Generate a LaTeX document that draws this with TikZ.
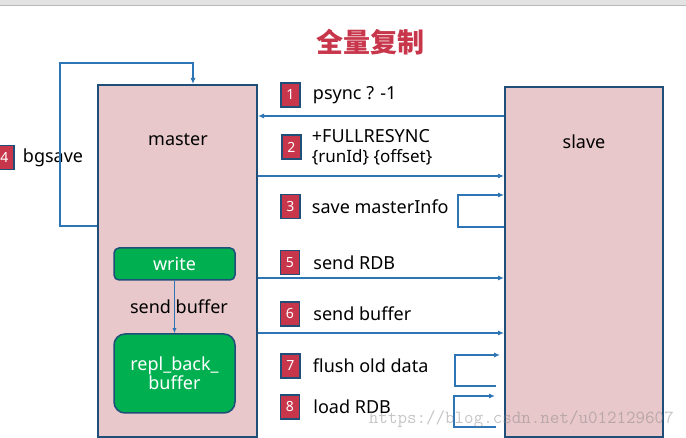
\documentclass[tikz,border=0pt]{standalone}
\usepackage{fontspec}
\setmainfont{Noto Sans}
\newfontfamily\cjk{Noto Sans CJK SC}
\usetikzlibrary{positioning,calc,arrows.meta}
\definecolor{boxpink}{HTML}{E8C8CB}
\definecolor{boxline}{HTML}{1F4E79}
\definecolor{linkblue}{HTML}{2E75B6}
\definecolor{badgered}{HTML}{C8364B}
\definecolor{writegreen}{HTML}{00B050}
\tikzset{
  hostbox/.style={draw=boxline, line width=2pt, fill=boxpink, inner sep=0pt},
  greenbox/.style={draw=boxline, line width=1.5pt, fill=writegreen, text=white,
    minimum width=121pt, align=center, inner sep=0pt},
  badge/.style={draw=boxline, line width=1.5pt, fill=badgered, text=white,
    minimum width=19pt, minimum height=24pt, inner sep=0pt,
    font=\fontsize{14}{15}\selectfont},
  steplabel/.style={right=12pt of #1, inner sep=0pt, align=left},
  link/.style={draw=linkblue, line width=1.1pt, -{Latex[length=6pt,width=5pt]}}
}

\begin{document}
\begin{tikzpicture}[x=1pt, y=-1pt, every node/.append style={font=\fontsize{18}{20}\selectfont}]
\useasboundingbox (0,0) rectangle (686,438);
\fill[gray!22] (0,0) rectangle (686,5);
\draw[gray!55, line width=0.8pt] (0,5) -- (686,5);

\node[font=\cjk\bfseries\fontsize{27}{30}\selectfont, text=badgered] (title) at (370,42) {全量复制};

\node[hostbox, minimum width=159pt, minimum height=352pt] (master) at (177.5,261) {};
\node[hostbox, minimum width=158pt, minimum height=350pt] (slave) at (584,262) {};
\node (mastertxt) at (178,140) {master};
\node (slavetxt) at (584,142) {slave};

\node[greenbox, minimum height=32pt, rounded corners=5pt] (write) at (174.5,264) {write};
\node[greenbox, minimum height=79pt, rounded corners=11pt] (repl) at (174.5,373.5) {repl\_back\_\\[-1pt]buffer};
\draw[link, line width=0.9pt, -{Latex[length=5pt,width=4pt]}] (write.south) -- (repl.north);
\node[inner sep=0pt] (sendbuf) at (179,307) {send buffer};

\node[badge] (b4) at (4.5,157.5) {4};
\node[steplabel=b4, right=8pt of b4] (l4) {bgsave};
\node[badge] (b1) at (290.5,95) {1};
\node[steplabel=b1] (l1) {psync ? -1};
\node[badge] (b2) at (291.5,147) {2};
\node[steplabel=b2, right=10pt of b2] (l2) {+FULLRESYNC\\{\fontsize{17}{19}\selectfont\{runId\} \{offset\}}};
\node[badge] (b3) at (290.5,206.5) {3};
\node[steplabel=b3, right=11pt of b3] (l3) {save masterInfo};
\node[badge] (b5) at (290,262.5) {5};
\node[steplabel=b5, right=13pt of b5] (l5) {send RDB};
\node[badge] (b6) at (290,314) {6};
\node[steplabel=b6, right=13pt of b6] (l6) {send buffer};
\node[badge] (b7) at (290.5,366) {7};
\node[steplabel=b7] (l7) {flush old data};
\node[badge] (b8) at (290,407) {8};
\node[steplabel=b8, right=13pt of b8] (l8) {load RDB};

\draw[link] (master.west |- 0,226) -- ++(-37,0) |- (193,63) -- (master.north -| 193,0);
\draw[link] (slave.west |- 0,116) -- (master.east |- 0,116);
\draw[link] (master.east |- 0,176) -- (slave.west |- 0,176);
\draw[link] (slave.west |- 0,227) -- ++(-46,0) |- (slave.west |- 0,195);
\draw[link] (master.east |- 0,278) -- (slave.west |- 0,278);
\draw[link] (master.east |- 0,333) -- (slave.west |- 0,333);
\draw[link] ($(slave.west |- 0,386)+(-8,0)$) -- ++(-41,0) |- ($(slave.west |- 0,355)+(-4,0)$);
\draw[link] ($(slave.west |- 0,427)+(-8,0)$) -- ++(-42,0) |- ($(slave.west |- 0,396)+(-9,0)$);

\node[anchor=east, inner sep=0pt, text=gray, opacity=0.45, font=\ttfamily\fontsize{18.5}{19}\selectfont] (mark) at (674,419) {https://blog.csdn.net/u012129607};
\end{tikzpicture}
\end{document}
